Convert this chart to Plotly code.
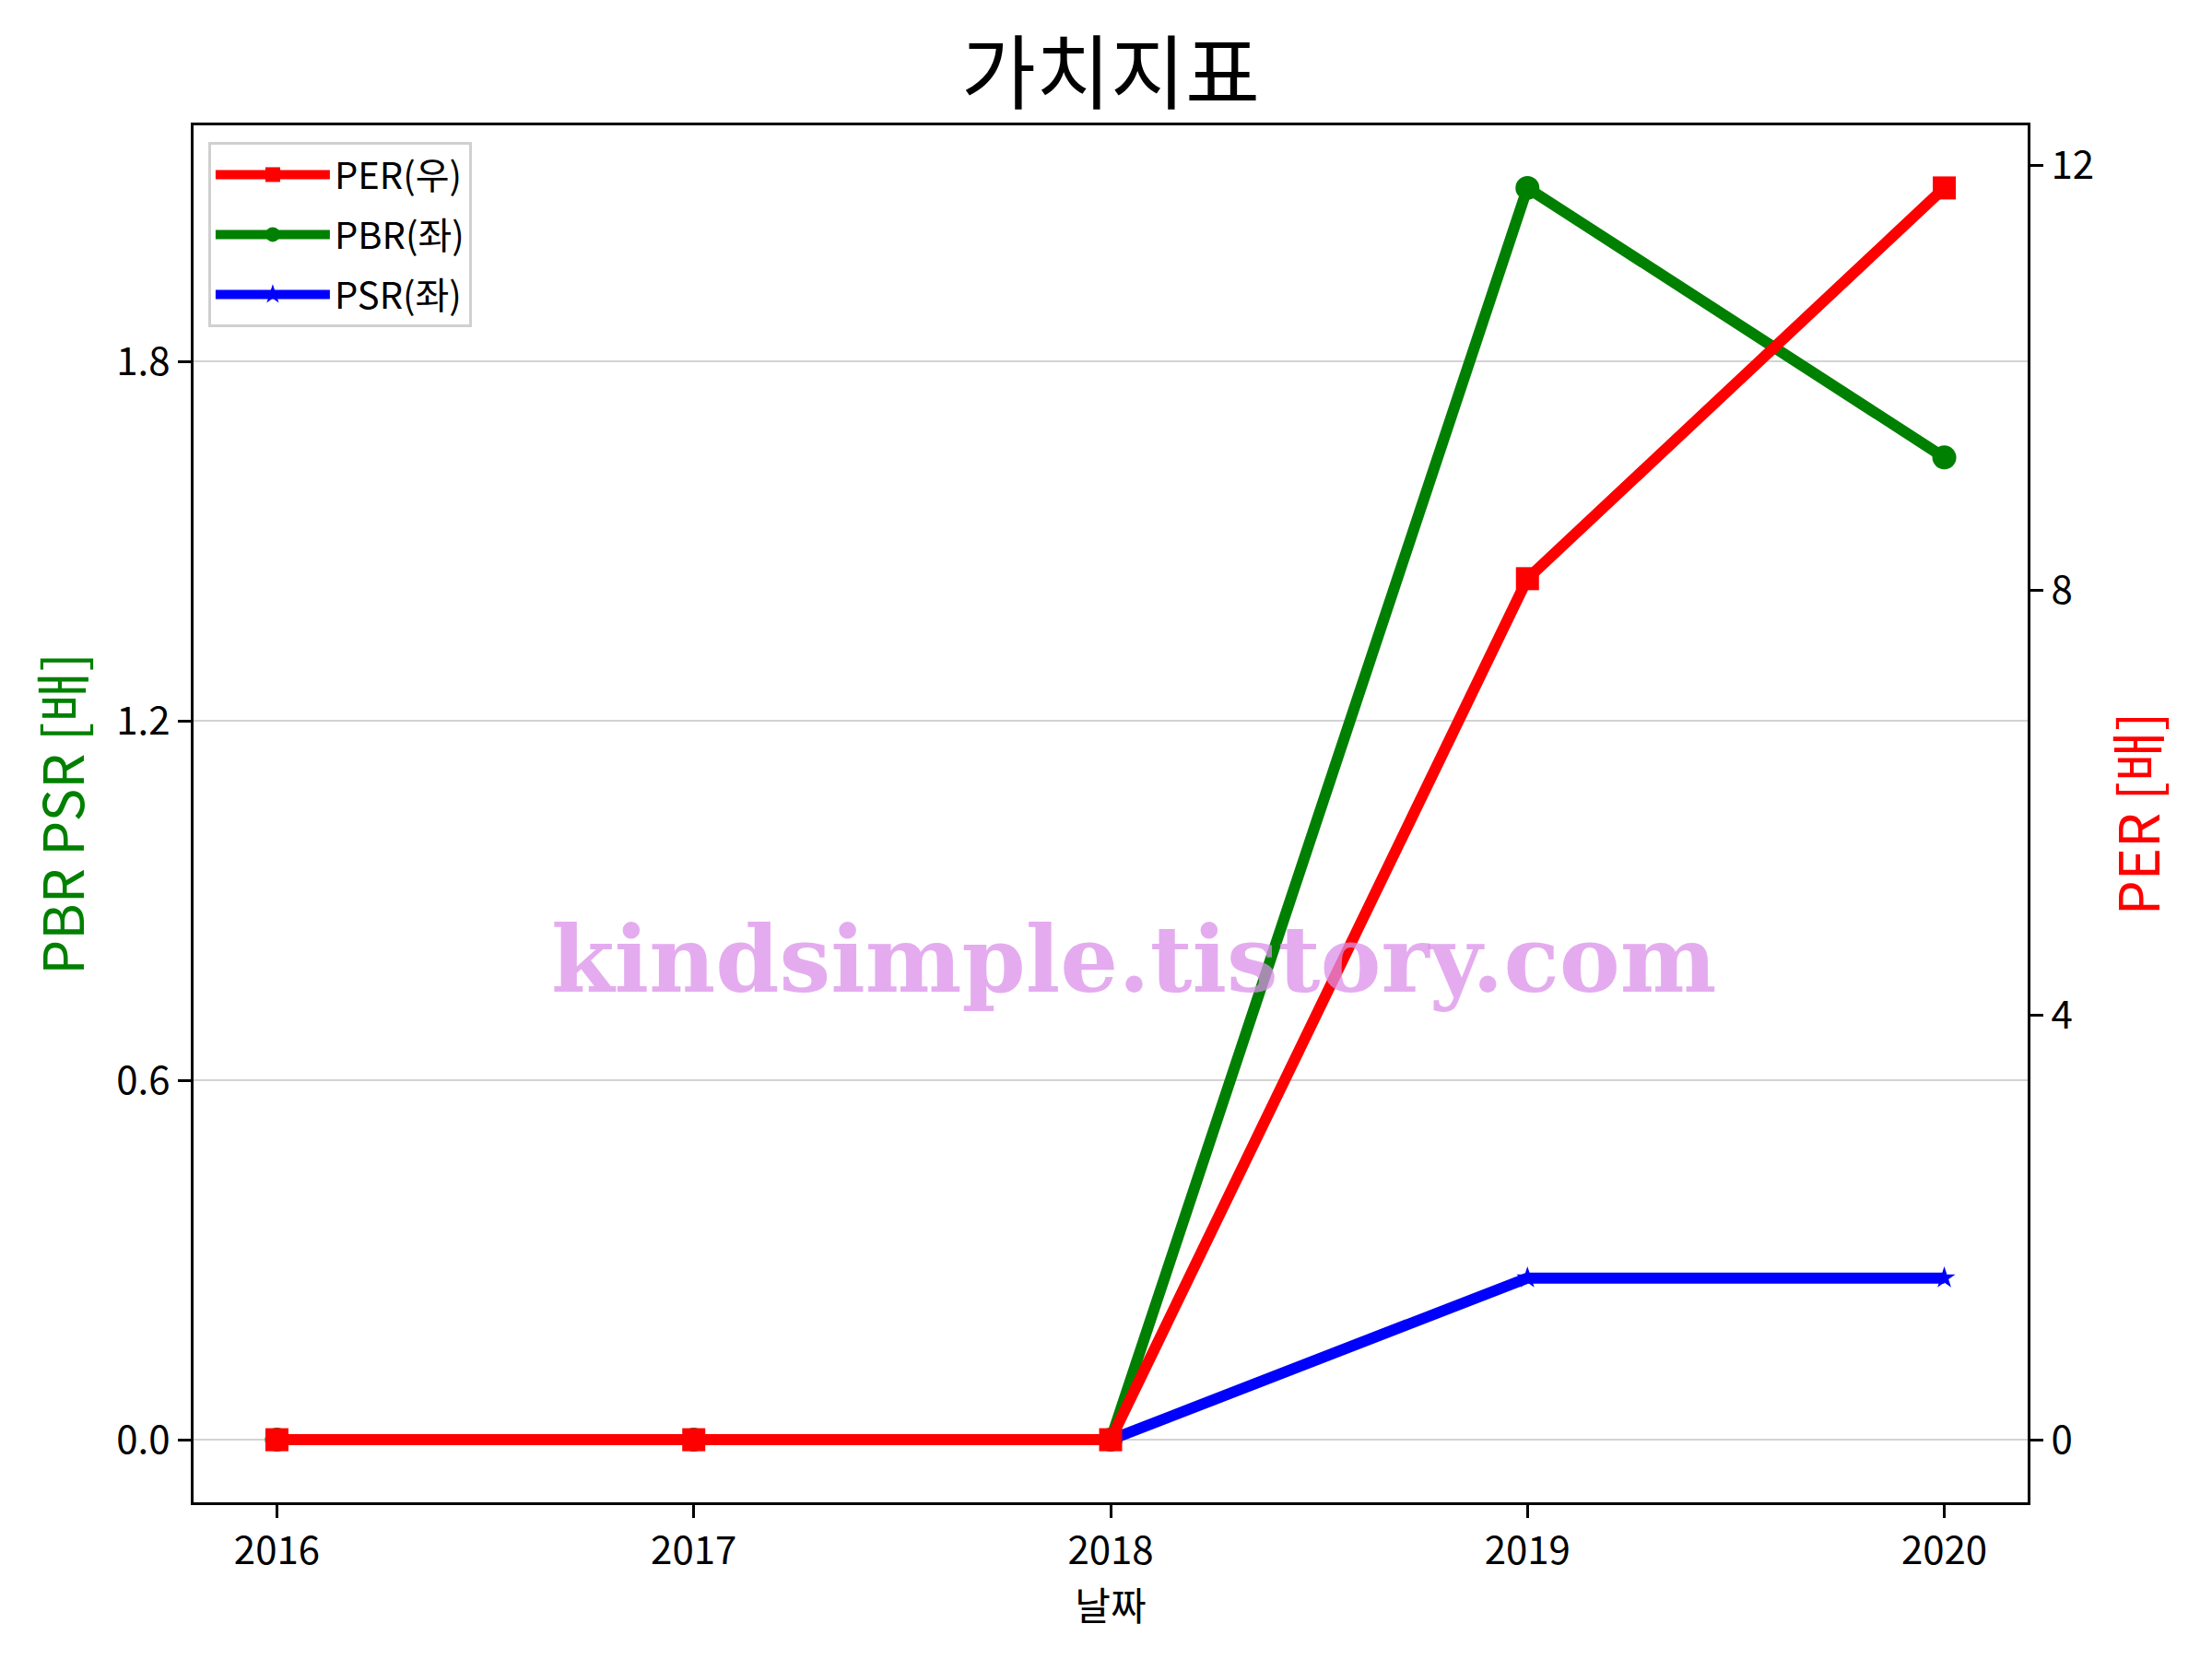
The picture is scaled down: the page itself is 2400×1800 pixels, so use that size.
import plotly.graph_objects as go

years = [2016, 2017, 2018, 2019, 2020]
per = [0.0, 0.0, 0.0, 8.11, 11.79]
pbr = [0.0, 0.0, 0.0, 2.09, 1.64]
psr = [0.0, 0.0, 0.0, 0.27, 0.27]

left_ticks = [0.0, 0.6, 1.2, 1.8]
right_ticks = [0, 4, 8, 12]

FONT = "Noto Sans CJK KR"

fig = go.Figure()
fig.add_trace(go.Scatter(x=years, y=pbr, name="PBR(좌)", mode="lines+markers",
                         line=dict(color="#008000", width=12),
                         marker=dict(symbol="circle", size=26, color="#008000"),
                         legendrank=2, legendgroup="b", yaxis="y"))
fig.add_trace(go.Scatter(x=years, y=psr, name="PSR(좌)", mode="lines+markers",
                         line=dict(color="#0000FF", width=12),
                         marker=dict(symbol="star", size=18, color="#0000FF"),
                         legendrank=3, legendgroup="c", yaxis="y"))
fig.add_trace(go.Scatter(x=years, y=per, name="PER(우)", mode="lines+markers",
                         line=dict(color="#FF0000", width=12),
                         marker=dict(symbol="square", size=25, color="#FF0000"),
                         legendrank=1, legendgroup="a", yaxis="y2"))

pbr_max = max(pbr)
per_max = max(per)

fig.update_layout(
    width=2400, height=1800,
    margin=dict(l=202, r=208, t=128, b=178),
    paper_bgcolor="white", plot_bgcolor="white",
    font=dict(family=FONT, size=42, color="black"),
    title=dict(text="가치지표", x=(1205 - 8) / 2400, xanchor="center", y=1 - 72 / 1800, yanchor="middle",
               yref="container", font=dict(size=88, family=FONT, color="black")),
    xaxis=dict(range=[2015.8, 2020.2], tickvals=years, ticktext=[str(y) for y in years],
               showgrid=False, zeroline=False, showline=True, linecolor="black", linewidth=3,
               mirror=True, ticks="outside", ticklen=14, tickwidth=3, tickcolor="black",
               tickfont=dict(size=42),
               title=dict(text="날짜", font=dict(size=42), standoff=6)),
    yaxis=dict(range=[-0.05 * pbr_max, pbr_max * 1.05], tickvals=left_ticks,
               ticktext=["%.1f" % v for v in left_ticks],
               showgrid=True, gridcolor="#D3D3D3", gridwidth=2, zeroline=False,
               showline=True, linecolor="black", linewidth=3,
               ticks="outside", ticklen=14, tickwidth=3, tickcolor="black",
               tickfont=dict(size=42),
               title=dict(text="PBR PSR [배]", font=dict(size=60, color="#008000"), standoff=16)),
    yaxis2=dict(range=[-0.05 * per_max, per_max * 1.05], tickvals=right_ticks,
                overlaying="y", side="right", anchor="x",
                showgrid=False, zeroline=False, showline=True, linecolor="black", linewidth=3,
                ticks="outside", ticklen=14, tickwidth=3, tickcolor="black",
                tickfont=dict(size=42),
                title=dict(text="PER [배]", font=dict(size=60, color="#FF0000"), standoff=30)),
    legend=dict(x=0.008, y=0.988, xanchor="left", yanchor="top",
                bgcolor="rgba(255,255,255,0.8)", bordercolor="#D0D0D0", borderwidth=3,
                font=dict(size=40, family=FONT), itemwidth=124, tracegroupgap=10),
    showlegend=True,
)

fig.add_annotation(text="<b>kindsimple.tistory.com</b>", xref="paper", yref="paper",
                   x=(1230 - 210) / 1990, y=1 - (1041 - 136) / 1494,
                   xanchor="center", yanchor="middle", showarrow=False,
                   font=dict(family="DejaVu Serif", size=99, color="rgba(219,144,234,0.75)"))

fig.write_html("out.html")
